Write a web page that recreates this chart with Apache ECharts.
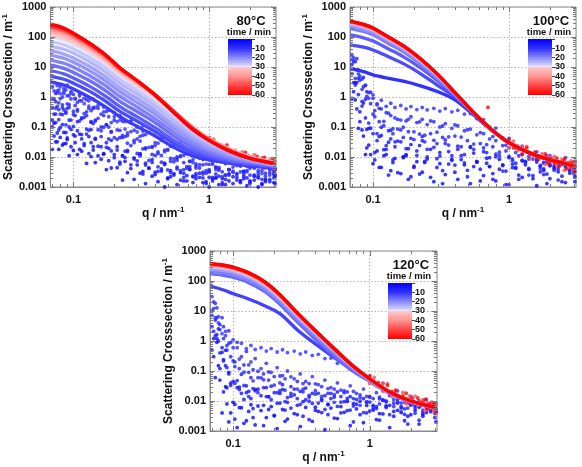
<!DOCTYPE html>
<html><head><meta charset="utf-8">
<script src="https://cdn.jsdelivr.net/npm/echarts@6/dist/echarts.min.js"></script>
<style>html,body{margin:0;padding:0;background:#fff}#c{width:582px;height:467px}</style>
</head><body><div id="c"></div>
<script>
// ---------- DATA ----------
const PANEL_TITLES = ['80°C', '100°C', '120°C'];
const X_TICKS = [0.1, 1];
const X_TICK_LABELS = ['0.1', '1'];
const Y_TICKS = [0.001, 0.01, 0.1, 1, 10, 100, 1000];
const Y_TICK_LABELS = ['0.001', '0.01', '0.1', '1', '10', '100', '1000'];
const CB_TICKS = [10, 20, 30, 40, 50, 60];

// q grid of the smooth (dense) curves
const Q = [0.068,0.085,0.1,0.13,0.17,0.22,0.3,0.4,0.55,0.75,1,1.4,2,3.1];
// q grids of the noisy early curves
const NQ1 = [0.07,0.074,0.078,0.083,0.088,0.093,0.1,0.107,0.115,0.125,0.135,0.145,0.16,0.175,0.19,0.21,0.23,0.25,0.28,0.31,0.34,0.38,0.42,0.47,0.52,0.58,0.65,0.72,0.8,0.9,1.0,1.12,1.25,1.4,1.6,1.8,2.0,2.3,2.6,3.0];
const NQ2 = [0.072,0.076,0.08,0.085,0.09,0.096,0.103,0.111,0.12,0.13,0.14,0.152,0.167,0.182,0.2,0.22,0.24,0.265,0.295,0.325,0.36,0.4,0.445,0.495,0.55,0.615,0.685,0.76,0.85,0.95,1.06,1.18,1.32,1.5,1.7,1.9,2.15,2.45,2.8,3.05];
// q grid of the noisy high-q tail of the late curves
const RQ = [1.0,1.08,1.16,1.25,1.35,1.45,1.55,1.65,1.75,1.85,1.95,2.05,2.15,2.25,2.35,2.45,2.55,2.65,2.75,2.85,2.95,3.05];

// ---- 80 °C ----
const lineTimes80 = [11,13,15,17,19,21,23,25,27,29,31,35,40,45,50,55,60];
const lineVals80 = [
 [3.2,2.5,1.85,1.0,0.49,0.22,0.1,0.05,0.021,0.011,0.008,0.0062,0.005,0.0042],
 [5,3.9,2.9,1.6,0.76,0.33,0.15,0.07,0.028,0.014,0.0095,0.007,0.0055,0.0045],
 [7.5,5.9,4.3,2.35,1.12,0.48,0.21,0.095,0.036,0.017,0.011,0.0075,0.006,0.0048],
 [11.5,9,6.6,3.6,1.7,0.72,0.31,0.14,0.05,0.022,0.013,0.0085,0.0065,0.005],
 [17,13.3,9.8,5.3,2.5,1.04,0.44,0.19,0.067,0.028,0.016,0.0095,0.007,0.005],
 [25,19.5,14.3,7.7,3.6,1.5,0.62,0.27,0.092,0.036,0.019,0.011,0.0075,0.0052],
 [35,27,20,10.8,5.0,2.05,0.85,0.36,0.12,0.045,0.023,0.013,0.008,0.0055],
 [50,39,29,15.5,7.1,2.9,1.2,0.5,0.165,0.058,0.028,0.015,0.009,0.006],
 [70,55,40,21.5,9.8,3.9,1.6,0.65,0.21,0.072,0.033,0.017,0.0095,0.006],
 [100,78,57,30,13.5,5.3,2.1,0.85,0.27,0.088,0.039,0.019,0.01,0.0065],
 [120,94,68,36,16,6.2,2.45,0.98,0.3,0.095,0.04,0.019,0.01,0.0065],
 [150,116,83,43,19,7.2,2.8,1.1,0.33,0.1,0.04,0.018,0.0095,0.0062],
 [180,138,97,49,21.5,8.0,3.05,1.18,0.34,0.1,0.04,0.018,0.0095,0.006],
 [205,156,108,54,23.5,8.6,3.2,1.2,0.33,0.096,0.038,0.017,0.009,0.006],
 [228,172,118,58,25,9.0,3.25,1.18,0.32,0.092,0.037,0.017,0.009,0.006],
 [250,187,127,62,26,9.3,3.3,1.17,0.31,0.088,0.036,0.016,0.009,0.006],
 [270,200,135,65,27,9.5,3.3,1.15,0.3,0.085,0.035,0.016,0.009,0.006]
];
const noisyTimes80 = [1,2,3,4,5,6,6.5,7,8,9,9.5,10];
const noisyGrid80 = [1,2,2,1,1,2,1,1,2,1,2,2];
const noisyVals80 = [
 [0.018,0.032,0.018,0.025,0.028,0.011,0.0165,0.012,0.0156,0.0061,0.0103,0.0065,0.0084,0.0038,0.0043,0.0044,0.0017,0.003,0.0018,0.0029,0.0013,0.0023,0.0015,0.001,0.0022,0.0012,0.0016,0.0009,0.0019,0.0014,0.001,0.002,0.0012,0.0016,0.0008,0.0019,0.0013,0.001,0.0017,0.0014],
 [0.05,0.032,0.045,0.028,0.038,0.022,0.03,0.018,0.024,0.013,0.017,0.011,0.013,0.0075,0.0095,0.0058,0.0072,0.0041,0.0055,0.0033,0.0042,0.0026,0.0034,0.002,0.0028,0.0017,0.0024,0.0014,0.0021,0.0015,0.0019,0.0012,0.0018,0.0013,0.0016,0.0011,0.0017,0.0012,0.0015,0.0013],
 [0.134,0.063,0.097,0.066,0.043,0.083,0.05,0.058,0.028,0.048,0.022,0.023,0.0124,0.0195,0.012,0.0067,0.0096,0.0055,0.0074,0.0027,0.0043,0.0031,0.004,0.0019,0.0025,0.003,0.0016,0.0022,0.0029,0.0013,0.0016,0.0023,0.0012,0.0022,0.0014,0.002,0.0025,0.0013,0.0018,0.0023],
 [0.1,0.14,0.08,0.12,0.065,0.1,0.055,0.075,0.04,0.058,0.03,0.042,0.022,0.03,0.016,0.022,0.011,0.015,0.0085,0.011,0.0062,0.0082,0.0047,0.006,0.0035,0.0046,0.0029,0.0038,0.0024,0.0031,0.0021,0.0027,0.0019,0.0025,0.0017,0.0023,0.0016,0.0021,0.0015,0.002],
 [0.168,0.27,0.176,0.26,0.118,0.17,0.104,0.15,0.056,0.085,0.082,0.039,0.048,0.021,0.036,0.017,0.011,0.0165,0.0093,0.0129,0.0054,0.0066,0.0033,0.0056,0.003,0.004,0.0021,0.0039,0.0028,0.002,0.0033,0.002,0.0014,0.0028,0.0021,0.0032,0.0015,0.0024,0.0018,0.0029],
 [0.27,0.49,0.27,0.37,0.42,0.17,0.24,0.16,0.21,0.078,0.13,0.081,0.098,0.04,0.044,0.044,0.0156,0.024,0.0131,0.0188,0.0077,0.0113,0.0067,0.0037,0.0069,0.0035,0.0042,0.0023,0.0043,0.0029,0.0021,0.0041,0.0025,0.0031,0.0016,0.0035,0.0023,0.0018,0.003,0.0025],
 [0.45,0.7,0.38,0.55,0.32,0.45,0.26,0.34,0.2,0.24,0.15,0.17,0.1,0.12,0.068,0.08,0.045,0.052,0.03,0.034,0.02,0.022,0.013,0.015,0.009,0.01,0.0065,0.0072,0.005,0.0055,0.0038,0.0045,0.0032,0.0038,0.0028,0.0033,0.0025,0.003,0.0023,0.0027],
 [0.9,0.42,0.64,0.44,0.29,0.56,0.33,0.38,0.19,0.32,0.144,0.158,0.075,0.117,0.07,0.039,0.052,0.029,0.036,0.0126,0.0187,0.0122,0.0149,0.0062,0.0072,0.0078,0.0038,0.0048,0.0059,0.0027,0.0032,0.0046,0.0022,0.0038,0.0026,0.0033,0.0042,0.002,0.0029,0.0035],
 [0.84,1.37,0.88,1.32,0.59,0.86,0.52,0.76,0.28,0.42,0.41,0.195,0.24,0.1,0.168,0.077,0.048,0.07,0.04,0.053,0.021,0.024,0.0113,0.0176,0.0086,0.0103,0.0048,0.0081,0.0056,0.0035,0.0057,0.0036,0.0025,0.0046,0.0032,0.0049,0.0023,0.0035,0.0025,0.0039],
 [2.2,1.32,1.7,1.0,1.72,1.12,1.22,0.66,0.74,0.81,0.35,0.45,0.27,0.33,0.14,0.15,0.154,0.063,0.078,0.049,0.056,0.021,0.029,0.017,0.023,0.0092,0.0115,0.0072,0.0043,0.0082,0.0057,0.0038,0.0073,0.0038,0.0052,0.0027,0.005,0.0035,0.005,0.0027],
 [1.6,2.4,1.3,1.9,1.1,1.5,0.85,1.1,0.6,0.75,0.45,0.52,0.32,0.36,0.22,0.24,0.15,0.16,0.1,0.11,0.065,0.07,0.042,0.046,0.028,0.03,0.018,0.02,0.012,0.013,0.0085,0.0095,0.0065,0.0072,0.0052,0.0058,0.0045,0.005,0.0038,0.0042],
 [3.0,1.6,2.2,1.5,2.5,1.35,0.9,1.3,0.9,0.5,0.84,0.42,0.46,0.22,0.3,0.17,0.085,0.15,0.068,0.073,0.065,0.03,0.036,0.017,0.022,0.011,0.013,0.0065,0.009,0.0058,0.0068,0.0045,0.006,0.0034,0.005,0.0032,0.0043,0.0028,0.0038,0.0025]
];
const tailTimes80 = [48, 60];
const tailVals80 = [
 [0.0245,0.039,0.02,0.025,0.026,0.0101,0.0152,0.0106,0.0148,0.0063,0.0114,0.0081,0.0119,0.006,0.008,0.0094,0.0041,0.0076,0.0051,0.0087,0.0042,0.0073],
 [0.044,0.023,0.0275,0.0147,0.0234,0.0147,0.0166,0.0094,0.0114,0.0142,0.0067,0.0099,0.0072,0.0104,0.0057,0.0076,0.0097,0.0046,0.0074,0.0056,0.0078,0.0038]
];

// ---- 100 °C ----
const lineTimes100 = [10,13,15,18,20,22,24,33,40,50,55,60];
const lineVals100 = [
 [9,7,5.5,4.2,3.3,2.4,1.5,0.8,0.25,0.075,0.03,0.014,0.008,0.005],
 [55,46,37,22,12.5,6.3,2.4,1.0,0.27,0.078,0.03,0.014,0.008,0.005],
 [118,94,73,40,21,9.8,3.4,1.12,0.28,0.08,0.031,0.014,0.008,0.005],
 [195,153,118,61,30.5,13.2,4.0,1.2,0.29,0.08,0.03,0.014,0.008,0.005],
 [225,177,136,70,34.5,14.8,4.45,1.28,0.295,0.08,0.03,0.014,0.008,0.005],
 [250,197,151,77,38,16.3,4.8,1.32,0.3,0.08,0.03,0.014,0.008,0.005],
 [275,216,165,84,41.5,17.6,5.1,1.36,0.3,0.08,0.03,0.014,0.008,0.005],
 [295,232,177,89.5,44,18.5,5.35,1.38,0.3,0.08,0.03,0.014,0.008,0.005],
 [310,243,185,93,45.5,19,5.45,1.39,0.3,0.08,0.03,0.014,0.008,0.005],
 [325,255,193,97,47,19.6,5.55,1.4,0.3,0.08,0.03,0.014,0.008,0.005],
 [335,262,198,99,48,20,5.6,1.4,0.3,0.08,0.03,0.014,0.008,0.005],
 [340,265,200,100,48.5,20,5.6,1.4,0.3,0.08,0.03,0.014,0.008,0.005]
];
const noisyTimes100 = [1,2,3,4,5,6,7,8,9];
const noisyGrid100 = [1,2,2,1,1,2,2,1,1];
const noisyVals100 = [
 [0.9,0.8,0.09,0.08,0.012,0.025,0.006,0.016,0.0045,0.012,0.0035,0.009,0.0028,0.011,0.0022,0.007,0.0031,0.0085,0.0015,0.006,0.0026,0.0078,0.0018,0.0055,0.0013,0.0068,0.0024,0.0048,0.0016,0.0052,0.0012,0.0045,0.0021,0.0038,0.0011,0.004,0.0019,0.0032,0.0014,0.0036],
 [1.5,0.4,0.15,0.05,0.02,0.012,0.008,0.0045,0.011,0.0025,0.0065,0.003,0.0095,0.0018,0.005,0.0027,0.0072,0.0021,0.0045,0.0013,0.0058,0.0031,0.0082,0.0022,0.0048,0.0016,0.0062,0.0028,0.0039,0.0012,0.0044,0.0025,0.0055,0.0019,0.0032,0.0027,0.0041,0.0015,0.0029,0.0022],
 [3,3,0.32,0.63,0.083,0.091,0.014,0.048,0.0175,0.031,0.008,0.034,0.0102,0.019,0.0045,0.024,0.0065,0.018,0.0088,0.0035,0.0152,0.0054,0.011,0.0036,0.0135,0.0039,0.0091,0.0018,0.0084,0.0034,0.0058,0.0018,0.0071,0.0024,0.0049,0.0013,0.0051,0.0023,0.0035,0.0015],
 [6,3,1.2,0.5,0.2,0.09,0.06,0.035,0.052,0.018,0.04,0.022,0.032,0.012,0.026,0.016,0.035,0.01,0.021,0.014,0.028,0.0085,0.018,0.012,0.022,0.0068,0.015,0.0095,0.0125,0.0055,0.0095,0.0062,0.0075,0.0042,0.0068,0.0035,0.0052,0.004,0.0046,0.0032],
 [12,2.5,4.2,0.72,0.84,0.135,0.27,0.06,0.098,0.024,0.078,0.032,0.08,0.019,0.042,0.0112,0.048,0.018,0.036,0.0108,0.037,0.011,0.023,0.0064,0.021,0.0072,0.02,0.0048,0.0102,0.0034,0.0104,0.0042,0.0077,0.0025,0.0078,0.0026,0.0052,0.0017,0.0054,0.0028],
 [15,8,5,2.2,1.5,0.6,0.35,0.15,0.11,0.075,0.06,0.085,0.045,0.07,0.038,0.058,0.032,0.06,0.028,0.045,0.025,0.05,0.022,0.035,0.018,0.028,0.014,0.022,0.011,0.016,0.0085,0.011,0.0065,0.0085,0.0052,0.0068,0.0045,0.0056,0.0038,0.0048],
 [20,19,3.6,4.5,1.05,1.44,0.22,0.42,0.154,0.29,0.088,0.18,0.098,0.18,0.069,0.149,0.053,0.16,0.067,0.108,0.047,0.117,0.046,0.081,0.027,0.065,0.026,0.048,0.0144,0.025,0.0075,0.018,0.007,0.0119,0.0041,0.0109,0.0036,0.0072,0.0038,0.0072],
 [25,15,8,4,2.5,1.4,0.9,0.55,0.4,0.3,0.24,0.2,0.17,0.16,0.22,0.14,0.18,0.12,0.15,0.1,0.13,0.09,0.11,0.075,0.085,0.055,0.06,0.04,0.035,0.024,0.02,0.014,0.012,0.0085,0.009,0.0062,0.0065,0.005,0.0055,0.0042],
 [18,4.2,5.9,1.8,2.4,0.9,1.17,0.6,0.78,0.49,0.62,0.45,0.52,0.4,0.48,0.38,0.45,0.37,0.42,0.34,0.41,0.32,0.36,0.27,0.28,0.19,0.176,0.101,0.092,0.044,0.042,0.02,0.023,0.0105,0.0149,0.0067,0.011,0.0056,0.0095,0.0042]
];
const tailTimes100 = [48, 60];
const tailVals100 = [
 [0.021,0.034,0.0168,0.0216,0.0225,0.0088,0.0132,0.0094,0.013,0.0056,0.0102,0.0072,0.0105,0.0053,0.0069,0.0082,0.0036,0.0066,0.0044,0.0074,0.0036,0.0063],
 [0.0375,0.02,0.023,0.0126,0.02,0.0128,0.0144,0.0083,0.01,0.0126,0.006,0.0088,0.0064,0.0091,0.005,0.0066,0.0084,0.004,0.0063,0.0048,0.0066,0.0033]
];
const strayQ100 = [0.7];
const strayI100 = [0.45];

// ---- 120 °C ----
const lineTimes120 = [12,16,19,22,25,31,35,40,45,50,55,60];
const lineVals120 = [
 [68,50,38,25,15,8.2,2.2,0.8,0.28,0.11,0.05,0.02,0.01,0.006],
 [175,155,133,88,45,16.8,4.0,1.15,0.31,0.1,0.045,0.018,0.009,0.0058],
 [205,182,156,104,53,20,4.9,1.45,0.4,0.122,0.048,0.018,0.0095,0.006],
 [255,226,194,128,65,24.5,5.9,1.72,0.46,0.135,0.051,0.019,0.0095,0.006],
 [290,258,222,146,74,27.5,6.6,1.9,0.5,0.142,0.053,0.02,0.01,0.006],
 [315,282,242,159,81,30,7.2,2.05,0.53,0.148,0.055,0.02,0.01,0.006],
 [330,295,253,166,84,31,7.4,2.1,0.54,0.15,0.055,0.02,0.01,0.006],
 [345,308,264,173,87,32,7.6,2.15,0.55,0.15,0.055,0.02,0.01,0.006],
 [355,318,272,178,90,33,7.8,2.18,0.55,0.15,0.055,0.02,0.01,0.006],
 [365,327,280,183,92,34,7.9,2.2,0.55,0.15,0.055,0.02,0.01,0.006],
 [375,335,286,187,94,34.5,8,2.2,0.55,0.15,0.055,0.02,0.01,0.006],
 [380,340,290,190,95,35,8,2.2,0.55,0.15,0.055,0.02,0.01,0.006]
];
const noisyTimes120 = [1,2,3,4,5,6,7,8,9,10];
const noisyGrid120 = [1,2,2,1,1,2,2,2,1,1];
const noisyVals120 = [
 [0.5,0.06,0.15,0.004,0.03,0.002,0.009,0.0013,0.006,0.0022,0.0075,0.0016,0.0048,0.0028,0.0065,0.0012,0.0052,0.0025,0.0038,0.0014,0.0061,0.0021,0.0045,0.0011,0.0058,0.0026,0.0042,0.0015,0.0055,0.0019,0.0046,0.0024,0.0037,0.0013,0.0049,0.0022,0.0035,0.0017,0.0041,0.0028],
 [0.3,0.9,0.05,0.02,0.008,0.004,0.0025,0.006,0.0018,0.0045,0.0028,0.0068,0.0015,0.0052,0.0032,0.0085,0.0021,0.0058,0.0035,0.0095,0.0024,0.0062,0.0041,0.0078,0.0027,0.0065,0.0048,0.0082,0.0035,0.0071,0.0052,0.0038,0.0066,0.0045,0.0058,0.0031,0.0049,0.0036,0.0054,0.0042],
 [1.2,1.2,0.12,0.216,0.0275,0.039,0.0077,0.029,0.0112,0.021,0.0056,0.0247,0.0072,0.0138,0.0033,0.0179,0.005,0.0143,0.0072,0.0031,0.0136,0.0049,0.0104,0.0035,0.0135,0.004,0.0098,0.002,0.0098,0.004,0.0072,0.0023,0.0094,0.0031,0.0065,0.0017,0.0069,0.0031,0.0046,0.002],
 [3,5,1,0.6,0.15,0.08,0.045,0.028,0.018,0.032,0.012,0.022,0.015,0.028,0.011,0.019,0.024,0.009,0.016,0.021,0.011,0.018,0.0085,0.015,0.012,0.02,0.0095,0.014,0.0078,0.012,0.0092,0.0065,0.0105,0.0072,0.0085,0.0055,0.0078,0.0062,0.0058,0.0068],
 [7.2,1.5,2.55,0.42,0.49,0.09,0.216,0.048,0.078,0.019,0.06,0.0245,0.059,0.014,0.031,0.0084,0.035,0.013,0.025,0.0077,0.027,0.0083,0.018,0.0052,0.018,0.0066,0.019,0.005,0.0114,0.0041,0.0136,0.0056,0.0105,0.0035,0.011,0.0036,0.0073,0.0023,0.0075,0.0038],
 [2.1,1.62,0.4,0.24,0.13,0.033,0.039,0.024,0.033,0.014,0.026,0.019,0.028,0.014,0.019,0.022,0.0096,0.0178,0.012,0.0203,0.0098,0.0169,0.0117,0.0075,0.0162,0.0092,0.0121,0.0068,0.013,0.009,0.0063,0.0119,0.0068,0.0084,0.0043,0.0088,0.0058,0.0042,0.0068,0.0055],
 [20,6,3.5,1.2,0.5,0.3,0.2,0.12,0.16,0.09,0.11,0.06,0.08,0.05,0.065,0.04,0.055,0.03,0.045,0.025,0.038,0.022,0.03,0.018,0.025,0.014,0.02,0.012,0.016,0.0095,0.012,0.008,0.01,0.0065,0.0085,0.0058,0.0072,0.005,0.0065,0.0048],
 [12,12.8,2.4,3.0,0.7,0.9,0.14,0.25,0.091,0.16,0.047,0.098,0.051,0.093,0.034,0.068,0.023,0.064,0.025,0.038,0.0154,0.0375,0.0143,0.026,0.009,0.023,0.0098,0.021,0.0072,0.0143,0.005,0.0135,0.006,0.0112,0.0041,0.0112,0.0039,0.0078,0.0044,0.0083],
 [10,18,4,6,1.5,2.2,0.6,0.9,0.3,0.45,0.2,0.26,0.12,0.18,0.09,0.13,0.07,0.1,0.055,0.08,0.045,0.065,0.035,0.05,0.028,0.04,0.022,0.032,0.018,0.025,0.014,0.019,0.011,0.015,0.009,0.012,0.0075,0.01,0.0065,0.0085],
 [30,6,6.5,1.75,2.1,0.83,1.1,0.6,0.84,0.56,0.71,0.52,0.6,0.46,0.56,0.43,0.51,0.41,0.46,0.37,0.43,0.33,0.36,0.26,0.27,0.18,0.176,0.114,0.115,0.064,0.066,0.032,0.039,0.0165,0.0216,0.0091,0.0143,0.0068,0.0112,0.0049]
];
const tailTimes120 = [48, 60];
const tailVals120 = [
 [0.0385,0.061,0.03,0.037,0.038,0.0143,0.0209,0.014,0.0192,0.0081,0.0146,0.0101,0.0146,0.0073,0.0096,0.011,0.0048,0.0086,0.0057,0.0094,0.0045,0.0076],
 [0.069,0.036,0.041,0.0217,0.0338,0.0209,0.0228,0.0124,0.0148,0.0182,0.0085,0.0123,0.0088,0.0126,0.0068,0.0089,0.0112,0.0053,0.0082,0.006,0.0083,0.004]
];

// colour map time -> colour (blue - white | pink - red)
const CM_T = [0, 10, 20, 28, 30, 30.01, 40, 50, 60];
const CM_C = ['#0000ff','#3030ff','#8a8afa','#d0d0ff','#ececff','#ffcaca','#ff9494','#ff4444','#ff0000'];

// ---------- LAYOUT / STYLE ----------
const FONT = "'Liberation Sans', Arial, sans-serif";
const PANELS = [
  {left: 50, top: 7, width: 226, height: 180},
  {left: 350, top: 7, width: 226, height: 180},
  {left: 210, top: 251, width: 227, height: 180}
];
const X_MIN = 0.0677, X_MAX = 3.11;
const DOT = 3.8;

function hex2rgb(h){ return [parseInt(h.slice(1,3),16),parseInt(h.slice(3,5),16),parseInt(h.slice(5,7),16)]; }
function colorAt(t){
  for (let i = 0; i < CM_T.length - 1; i++) {
    if (t <= CM_T[i+1]) {
      const f = (t - CM_T[i]) / (CM_T[i+1] - CM_T[i]);
      const a = hex2rgb(CM_C[i]), b = hex2rgb(CM_C[i+1]);
      return 'rgb(' + a.map((v,k) => Math.round(v + (b[k]-v)*f)).join(',') + ')';
    }
  }
  return CM_C[CM_C.length-1];
}
function labelFor(v, ticks, labels){
  for (let i = 0; i < ticks.length; i++) if (Math.abs(Math.log10(v) - Math.log10(ticks[i])) < 1e-6) return labels[i];
  return '';
}
function minorTicks(lo, hi){
  const out = [];
  for (let e = Math.floor(Math.log10(lo)); e <= Math.ceil(Math.log10(hi)); e++)
    for (let m = 2; m <= 9; m++) { const v = m * Math.pow(10, e); if (v > lo && v < hi) out.push(v); }
  return out;
}
const X_MINOR = minorTicks(X_MIN, X_MAX);
const Y_MINOR = minorTicks(0.001, 1000);

const grids = [], xAxes = [], yAxes = [], series = [], graphics = [];
const panelData = [
  {lt: lineTimes80, lv: lineVals80, nt: noisyTimes80, ng: noisyGrid80, nv: noisyVals80, tt: tailTimes80, tv: tailVals80},
  {lt: lineTimes100, lv: lineVals100, nt: noisyTimes100, ng: noisyGrid100, nv: noisyVals100, tt: tailTimes100, tv: tailVals100, sq: strayQ100, si: strayI100},
  {lt: lineTimes120, lv: lineVals120, nt: noisyTimes120, ng: noisyGrid120, nv: noisyVals120, tt: tailTimes120, tv: tailVals120}
];

PANELS.forEach((p, i) => {
  const pi = 2 * i, ci = 2 * i + 1;   // panel grid / colour-bar grid indices
  grids.push({left: p.left, top: p.top, width: p.width, height: p.height, show: true, borderColor: '#8a8a8a', borderWidth: 1, backgroundColor: '#fff'});
  xAxes.push({
    type: 'log', gridIndex: pi, min: X_MIN, max: X_MAX, logBase: 10,
    name: '{a|q / nm}{s|-1}', nameLocation: 'middle', nameGap: 16,
    nameTextStyle: {verticalAlign: 'top', rich: {
      a: {fontSize: 12, fontWeight: 'bold', fontFamily: FONT, color: '#111', lineHeight: 16},
      s: {fontSize: 8, fontWeight: 'bold', fontFamily: FONT, color: '#111', verticalAlign: 'top', lineHeight: 16}}},
    axisLine: {show: true, lineStyle: {color: '#8a8a8a'}},
    axisTick: {show: false},
    axisLabel: {margin: 7, fontSize: 11, fontWeight: 'bold', fontFamily: FONT, color: '#111',
      formatter: v => labelFor(v, X_TICKS, X_TICK_LABELS), showMinLabel: false, showMaxLabel: false},
    splitLine: {show: true, lineStyle: {color: '#b4b4b4', type: [1.5, 2], width: 1}}
  });
  yAxes.push({
    type: 'log', gridIndex: pi, min: 0.001, max: 1000, logBase: 10, splitNumber: 6,
    name: '{a|Scattering Crosssection / m}{s|-1}', nameLocation: 'middle', nameGap: 31, nameRotate: 90,
    nameTextStyle: {rich: {
      a: {fontSize: 12, fontWeight: 'bold', fontFamily: FONT, color: '#111', lineHeight: 16},
      s: {fontSize: 8, fontWeight: 'bold', fontFamily: FONT, color: '#111', verticalAlign: 'top', lineHeight: 16}}},
    axisLine: {show: true, lineStyle: {color: '#8a8a8a'}},
    axisTick: {show: false},
    axisLabel: {margin: 4, fontSize: 11, fontWeight: 'bold', fontFamily: FONT, color: '#111',
      formatter: v => labelFor(v, Y_TICKS, Y_TICK_LABELS)},
    splitLine: {show: true, lineStyle: {color: '#b4b4b4', type: [1.5, 2], width: 1}}
  });

  grids.push({left: p.left + 178, top: p.top + 32, width: 24, height: 56, show: false});
  xAxes.push({type: 'category', gridIndex: ci, data: [''], show: false});
  yAxes.push({type: 'value', gridIndex: ci, min: 0, max: 60, interval: 10, inverse: true, position: 'right',
    axisLine: {show: false}, splitLine: {show: false},
    axisTick: {show: true, length: 3, lineStyle: {color: '#444'}},
    axisLabel: {margin: 3, fontSize: 9, fontWeight: 'bold', fontFamily: FONT, color: '#111',
      showMinLabel: true, showMaxLabel: true, hideOverlap: false,
      formatter: v => CB_TICKS.indexOf(v) >= 0 ? String(v) : ''}});

  const d = panelData[i];
  d.nt.forEach((t, k) => {
    const grid = d.ng[k] === 1 ? NQ1 : NQ2;
    series.push({type: 'scatter', xAxisIndex: pi, yAxisIndex: pi, symbol: 'circle', symbolSize: DOT,
      itemStyle: {color: colorAt(t)}, silent: true,
      data: grid.map((q, j) => [q, d.nv[k][j]]).filter(p => p[1] != null)});
  });
  d.lt.forEach((t, k) => {
    series.push({type: 'line', xAxisIndex: pi, yAxisIndex: pi, symbol: 'none', smooth: 0.35, silent: true,
      lineStyle: {width: 3.3, color: colorAt(t)},
      data: Q.map((q, j) => [q, d.lv[k][j]])});
  });
  d.tt.forEach((t, k) => {
    series.push({type: 'scatter', xAxisIndex: pi, yAxisIndex: pi, symbol: 'circle', symbolSize: DOT,
      itemStyle: {color: colorAt(t)}, silent: true,
      data: RQ.map((q, j) => [q, d.tv[k][j]])});
  });
  if (d.sq) {
    series.push({type: 'scatter', xAxisIndex: pi, yAxisIndex: pi, symbol: 'circle', symbolSize: DOT,
      itemStyle: {color: colorAt(60)}, silent: true, data: d.sq.map((q, j) => [q, d.si[j]])});
  }
  series.push({type: 'custom', xAxisIndex: pi, yAxisIndex: pi, silent: true, z: 20, clip: false,
    data: [[1, 1]],
    renderItem: (params, api) => {
      const cs = params.coordSys; const ch = [];
      const st = {stroke: '#7a7a7a', lineWidth: 1};
      const xs = X_TICKS.map(v => [v, 5]).concat(X_MINOR.map(v => [v, 3]));
      xs.forEach(([v, len]) => {
        const x = Math.round(api.coord([v, 1])[0]) + 0.5;
        ch.push({type: 'line', shape: {x1: x, y1: cs.y + cs.height, x2: x, y2: cs.y + cs.height - len}, style: st});
        ch.push({type: 'line', shape: {x1: x, y1: cs.y, x2: x, y2: cs.y + len}, style: st});
      });
      const ys = Y_TICKS.map(v => [v, 5]).concat(Y_MINOR.map(v => [v, 3]));
      ys.forEach(([v, len]) => {
        const y = Math.round(api.coord([1, v])[1]) + 0.5;
        ch.push({type: 'line', shape: {x1: cs.x, y1: y, x2: cs.x + len, y2: y}, style: st});
        ch.push({type: 'line', shape: {x1: cs.x + cs.width, y1: y, x2: cs.x + cs.width - len, y2: y}, style: st});
      });
      return {type: 'group', children: ch};
    }});

  const stops = CM_T.map((t, k) => ({offset: t / 60, color: CM_C[k]}));
  series.push({type: 'bar', xAxisIndex: ci, yAxisIndex: ci, data: [60], barWidth: '100%', silent: true,
    itemStyle: {color: new echarts.graphic.LinearGradient(0, 0, 0, 1, stops)}});

  graphics.push({type: 'text', x: p.left + 201, y: p.top + 14, silent: true,
    style: {text: PANEL_TITLES[i], font: 'bold 13px ' + FONT, fill: '#111', textAlign: 'center', textVerticalAlign: 'middle', verticalAlign: 'middle'}});
  graphics.push({type: 'text', x: p.left + 199, y: p.top + 25.5, silent: true,
    style: {text: 'time / min', font: 'bold 9.5px ' + FONT, fill: '#111', textAlign: 'center', textVerticalAlign: 'middle', verticalAlign: 'middle'}});
});

const chart = echarts.init(document.getElementById('c'), null, {renderer: 'canvas'});
chart.setOption({
  animation: false,
  backgroundColor: '#fff',
  grid: grids, xAxis: xAxes, yAxis: yAxes, series: series, graphic: graphics
});
</script></body></html>
